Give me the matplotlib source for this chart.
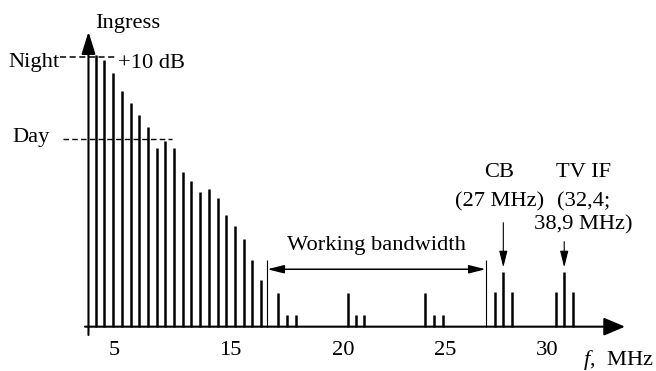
import matplotlib
matplotlib.use('Agg')
import matplotlib.pyplot as plt

plt.rcParams['font.family'] = ['Liberation Serif', 'DejaVu Serif']
plt.rcParams['mathtext.fontset'] = 'custom'
plt.rcParams['mathtext.it'] = 'Liberation Serif:italic'
plt.rcParams['mathtext.rm'] = 'Liberation Serif'

# ---- data (x: spectral slot, y: level in dB above floor) ----
ingress_slot = list(range(20))
ingress_level = [34.4, 33.7, 32.1, 29.8, 28.3, 26.8, 25.3, 22.6, 23.5, 22.6,
                 19.6, 18.4, 17.0, 17.4, 16.3, 14.1, 12.7, 11.1, 8.4, 5.9]
work_slot = [20.95, 21.95, 23.0, 28.95, 29.9, 30.85, 37.85, 38.9, 39.9]
work_level = [4.3, 1.5, 1.5, 4.3, 1.5, 1.5, 4.3, 1.5, 1.5]
cb_slot = [45.9, 46.85, 47.8]
cb_level = [4.35, 6.95, 4.35]
tvif_slot = [52.85, 53.85, 54.9]
tvif_level = [4.35, 6.95, 4.35]
tick_slot = [2.1, 15.45, 28.5, 40.15, 51.85]
tick_label = ['5', '15', '20', '25', '30']
night_level = 34.1
day_level = 23.8
band_edges = [19.72, 44.83]
band_top = 8.5
band_arrow_level = 7.27

FS = 16.2

fig = plt.figure(figsize=(6.56, 3.71), dpi=100)
ax = fig.add_axes([0, 0, 1, 1])
ax.set_xlim(-11.0, 64.4)
ax.set_ylim(-5.61, 41.35)
for s in ['top', 'right', 'left']:
    ax.spines[s].set_visible(False)
ax.spines['bottom'].set_position(('data', 0))
ax.spines['bottom'].set_visible(False)
ax.set_yticks([])
ax.set_xticks(tick_slot, tick_label)
ax.tick_params(axis='x', length=0, pad=10.0, labelsize=FS)

# bars
bar_kw = dict(colors='black', linewidth=1.8, capstyle='butt')
ax.vlines(ingress_slot, 0, ingress_level, **bar_kw)
ax.vlines(work_slot, 0, work_level, **bar_kw)
ax.vlines(cb_slot, 0, cb_level, **bar_kw)
ax.vlines(tvif_slot, 0, tvif_level, **bar_kw)

# axes arrows
ax.annotate('', xy=(60.84, 0), xytext=(-1.23, 0),
            arrowprops=dict(arrowstyle='-|>,head_length=1.3,head_width=0.55',
                            mutation_scale=10, lw=1.5, color='black',
                            shrinkA=0, shrinkB=0))
ax.annotate('', xy=(-0.83, 37.34), xytext=(-0.83, -1.05),
            arrowprops=dict(arrowstyle='-|>,head_length=1.35,head_width=0.42',
                            mutation_scale=10, lw=1.5, color='black',
                            shrinkA=0, shrinkB=0))

# night / day dashed levels
ax.plot([-4.1, 2.22], [night_level, night_level], color='black', lw=1.1,
        linestyle=(0, (4, 2.3)))
ax.plot([-3.76, 8.77], [day_level, day_level], color='black', lw=1.0,
        linestyle=(0, (4, 2.3)))
ax.text(-4.1, 32.9, 'Night', ha='right', va='baseline', fontsize=FS)
ax.text(-5.25, 23.4, 'Day', ha='right', va='baseline', fontsize=FS)
ax.text(2.56, 32.75, '+10 dB', ha='left', va='baseline', fontsize=FS)
ax.text(3.71, 37.75, 'Ingress', ha='center', va='baseline', fontsize=FS)

# working bandwidth
ax.vlines(band_edges, 0, band_top, colors='black', linewidth=0.8)
ax.annotate('', xy=(band_edges[1], band_arrow_level), xytext=(band_edges[0], band_arrow_level),
            arrowprops=dict(arrowstyle='<|-|>,head_length=1.0,head_width=0.25',
                            mutation_scale=10, lw=1.1, color='black',
                            shrinkA=0, shrinkB=0))
ax.text(32.3, 9.71, 'Working bandwidth', ha='center', va='baseline', fontsize=FS)

# CB and TV IF annotations
ax.annotate('', xy=(cb_slot[1], 7.5), xytext=(cb_slot[1], 13.16),
            arrowprops=dict(arrowstyle='-|>,head_length=1.0,head_width=0.25',
                            mutation_scale=10, lw=0.8, color='black',
                            shrinkA=0, shrinkB=0))
ax.annotate('', xy=(tvif_slot[1], 7.5), xytext=(tvif_slot[1], 10.76),
            arrowprops=dict(arrowstyle='-|>,head_length=1.0,head_width=0.25',
                            mutation_scale=10, lw=0.8, color='black',
                            shrinkA=0, shrinkB=0))
ax.text(46.4, 18.9, 'CB', ha='center', va='baseline', fontsize=FS)
ax.text(46.4, 15.2, '(27 MHz)', ha='center', va='baseline', fontsize=FS)
ax.text(56.04, 18.9, 'TV IF', ha='center', va='baseline', fontsize=FS)
ax.text(56.04, 15.2, '(32,4;', ha='center', va='baseline', fontsize=FS)
ax.text(56.04, 12.24, '38,9 MHz)', ha='center', va='baseline', fontsize=FS)

ax.text(56.0, -4.84, r'$f$,  MHz', ha='left', va='baseline', fontsize=FS)

fig.savefig('out.png', dpi=100)
